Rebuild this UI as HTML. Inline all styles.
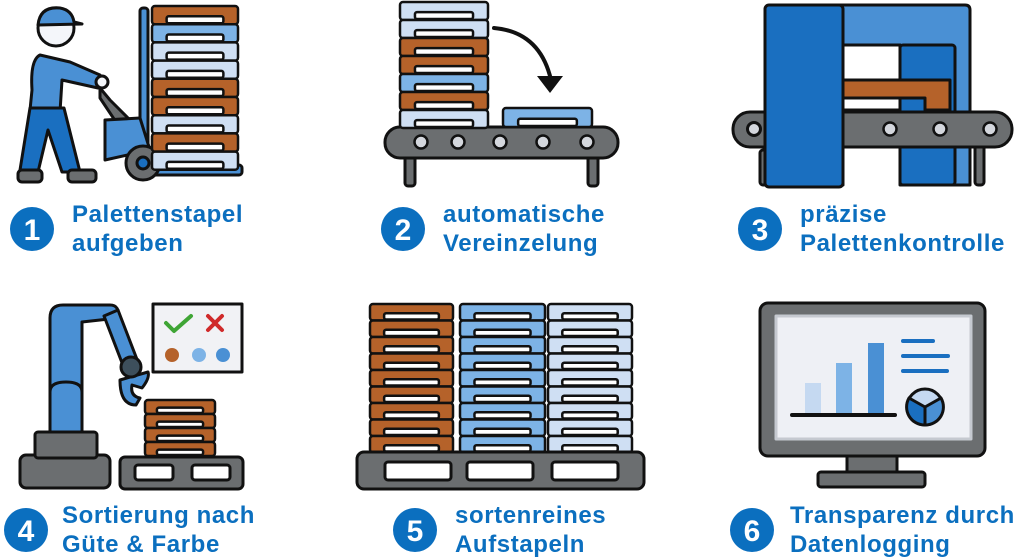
<!DOCTYPE html>
<html><head><meta charset="utf-8">
<style>
html,body{margin:0;padding:0;background:#fff;width:1024px;height:560px;overflow:hidden}
.lab{position:absolute;font-family:"Liberation Sans",sans-serif;font-weight:bold;font-size:24px;letter-spacing:0.6px;line-height:29px;color:#0b6fbf;white-space:nowrap}
</style></head><body>
<svg id="s" width="1024" height="560" style="position:absolute;left:0;top:0" stroke-linejoin="round" stroke-linecap="round">
<!-- Panel 1 worker -->
<g stroke="#111" stroke-width="3">
<rect x="140" y="8" width="8" height="165" rx="3" fill="#4a90d4"/>
<rect x="140" y="165" width="102" height="10" rx="3" fill="#4a90d4"/>
<path d="M40 55 Q30 60 32 90 L30 110 L60 112 L62 80 L98 88 L100 75 L70 62 Z" fill="#4a90d4"/>
<path d="M30 108 L20 170 L38 172 L48 130 L62 172 L80 172 L64 108 Z" fill="#1a6fc0"/>
<rect x="18" y="170" width="24" height="12" rx="4" fill="#6b6e70"/>
<rect x="68" y="170" width="28" height="12" rx="4" fill="#6b6e70"/>
<circle cx="56" cy="28" r="18" fill="#f4f6fa"/>
<path d="M38 25 Q40 6 60 8 Q72 10 74 22 L82 24 Z" fill="#4a90d4"/>
<path d="M100 88 L110 100 L130 120 L120 128 L100 98 Z" fill="#6b6e70"/>
<circle cx="102" cy="82" r="6" fill="#f4f6fa"/>
<path d="M105 120 L140 118 L150 150 L105 160 Z" fill="#4a90d4"/>
<circle cx="143" cy="163" r="17" fill="#6b6e70"/>
<circle cx="143" cy="163" r="6" fill="#1a6fc0"/>
</g>
<g id="p1"></g>
<!-- Panel 2 -->
<g stroke="#111" stroke-width="3">
<rect x="405" y="152" width="10" height="34" rx="3" fill="#6b6e70"/>
<rect x="588" y="152" width="10" height="34" rx="3" fill="#6b6e70"/>
<rect x="385" y="127" width="233" height="31" rx="15" fill="#6b6e70"/>
</g>
<g id="p2"></g>
<path d="M494 28 Q540 32 551 80" fill="none" stroke="#111" stroke-width="4"/>
<path d="M537 76 L550 93 L563 76 Z" fill="#111"/>
<!-- Panel 3 -->
<g stroke="#111" stroke-width="3">
<rect x="760" y="150" width="9" height="35" rx="3" fill="#6b6e70"/>
<rect x="975" y="145" width="9" height="40" rx="3" fill="#6b6e70"/>
<path d="M832 5 L965 5 Q970 5 970 10 L970 185 L900 185 L900 45 L843 45 L843 185 L832 185 Z" fill="#4a90d4"/>
<rect x="843" y="45" width="57" height="65" fill="#fff"/>
<rect x="900" y="45" width="55" height="140" rx="3" fill="#1a6fc0"/>
<path d="M843 80 L950 80 L950 110 L925 110 L925 98 L843 98 Z" fill="#b5622a"/>
<rect x="733" y="112" width="279" height="35" rx="17" fill="#6b6e70"/>
<circle cx="754" cy="129" r="6.5" fill="#d4d7dd"/>
<rect x="765" y="5" width="78" height="182" rx="4" fill="#1a6fc0"/>
</g>
<g id="p3"></g>
<!-- Panel 4 -->
<g stroke="#111" stroke-width="3">
<rect x="153" y="304" width="89" height="68" fill="#f1f2f5"/>
<path d="M166 323 L174 331 L191 316" fill="none" stroke="#3fa535" stroke-width="4"/>
<path d="M208 316 L222 330 M222 316 L208 330" stroke="#d02a2a" stroke-width="4"/>
<circle cx="172" cy="355" r="7" fill="#b5622a" stroke="none"/>
<circle cx="199" cy="355" r="7" fill="#7db3e6" stroke="none"/>
<circle cx="223" cy="355" r="7" fill="#4a90d4" stroke="none"/>
<rect x="20" y="455" width="90" height="33" rx="6" fill="#6b6e70"/>
<rect x="35" y="432" width="62" height="26" rx="3" fill="#6b6e70"/>
<path d="M50 432 L50 318 Q50 305 63 305 L110 305 Q120 305 118 318 L82 322 L82 432 Z" fill="#4a90d4"/>
<path d="M50 392 Q50 382 66 382 Q82 382 82 392" fill="none"/>
<path d="M104 316 L118 310 L138 362 L124 368 Z" fill="#4a90d4"/>
<path d="M120 380 Q120 405 136 405 L140 398 Q130 396 132 385 L142 388 Q150 378 148 372 Z" fill="#4a90d4"/>
<circle cx="131" cy="367" r="10" fill="#3d4f5c"/>
<rect x="120" y="457" width="123" height="32" rx="5" fill="#6b6e70"/>
<rect x="135" y="465" width="38" height="15" rx="3" fill="#fff"/>
<rect x="192" y="465" width="38" height="15" rx="3" fill="#fff"/>
</g>
<g id="p4"></g>
<!-- Panel 5 -->
<g id="p5"></g>
<g stroke="#111" stroke-width="3">
<rect x="357" y="452" width="287" height="37" rx="7" fill="#6b6e70"/>
<rect x="385" y="462" width="66" height="18" rx="3" fill="#fff"/>
<rect x="467" y="462" width="66" height="18" rx="3" fill="#fff"/>
<rect x="552" y="462" width="66" height="18" rx="3" fill="#fff"/>
</g>
<!-- Panel 6 -->
<g stroke="#111" stroke-width="3">
<rect x="847" y="452" width="50" height="24" fill="#6b6e70"/>
<rect x="818" y="472" width="107" height="15" rx="3" fill="#6b6e70"/>
<rect x="760" y="303" width="225" height="153" rx="8" fill="#6b6e70"/>
<rect x="776" y="316" width="195" height="123" fill="#eef0f5" stroke="#c5c9d0"/>
</g>
<rect x="805" y="383" width="16" height="31" fill="#c5d9f1"/>
<rect x="836" y="363" width="16" height="51" fill="#7db3e6"/>
<rect x="868" y="343" width="16" height="71" fill="#4a90d4"/>
<line x1="792" y1="415" x2="895" y2="415" stroke="#111" stroke-width="4"/>
<g stroke="#1a6fc0" stroke-width="4"><line x1="903" y1="341" x2="933" y2="341"/><line x1="903" y1="356" x2="948" y2="356"/><line x1="903" y1="371" x2="947" y2="371"/></g>
<g stroke="#111" stroke-width="3">
<circle cx="925" cy="407" r="18" fill="#c5d9f1"/>
<path d="M925 407 L909 398 A18 18 0 0 0 925 425 Z" fill="#1a6fc0"/>
<path d="M925 407 L925 425 A18 18 0 0 0 941 398 Z" fill="#4a90d4"/>
</g>
<!-- number circles -->
<g fill="#0b6fbf">
<circle cx="32" cy="229" r="22"/><circle cx="403" cy="229" r="22"/><circle cx="760" cy="229" r="22"/>
<circle cx="26" cy="530" r="22"/><circle cx="415" cy="530" r="22"/><circle cx="752" cy="530" r="22"/>
</g>
<g fill="#fff" font-family="Liberation Sans,sans-serif" font-weight="bold" font-size="30" text-anchor="middle">
<text x="32" y="240">1</text><text x="403" y="240">2</text><text x="760" y="240">3</text>
<text x="26" y="541">4</text><text x="415" y="541">5</text><text x="752" y="541">6</text>
</g>
</svg>
<div class="lab" style="left:72px;top:200px">Palettenstapel<br>aufgeben</div>
<div class="lab" style="left:443px;top:200px">automatische<br>Vereinzelung</div>
<div class="lab" style="left:800px;top:200px">präzise<br>Palettenkontrolle</div>
<div class="lab" style="left:62px;top:501px">Sortierung nach<br>Güte &amp; Farbe</div>
<div class="lab" style="left:455px;top:501px">sortenreines<br>Aufstapeln</div>
<div class="lab" style="left:790px;top:501px">Transparenz durch<br>Datenlogging</div>
<script>
var NS="http://www.w3.org/2000/svg";
function el(g,t,a){var e=document.createElementNS(NS,t);for(var k in a)e.setAttribute(k,a[k]);g.appendChild(e);return e;}
var C={b:"#b5622a",m:"#7db3e6",l:"#cfdff3",d:"#4a90d4"};
function pal(g,x,y,w,h,c){
 el(g,"rect",{x:x,y:y,width:w,height:h,rx:3,fill:C[c],stroke:"#111","stroke-width":2.5});
 var sw=w*0.66,sx=x+(w-sw)/2,sh=Math.max(5,h*0.38);
 el(g,"rect",{x:sx,y:y+h-sh-1,width:sw,height:sh,rx:2,fill:"#fff",stroke:"#111","stroke-width":2.5});
}
function stack(id,x,y,w,h,cols){var g=document.getElementById(id);for(var i=0;i<cols.length;i++)pal(g,x,y+i*h,w,h,cols[i]);}
stack("p1",152,6,86,18.2,["b","m","l","l","b","b","l","b","l"]);
stack("p2",400,2,88,18,["l","l","b","b","m","b","l"]);
pal(document.getElementById("p2"),503,108,89,19,"m");
stack("p4",145,400,70,14,["b","b","b","b"]);
stack("p5",370,304,83,16.5,["b","b","b","b","b","b","b","b","b"]);
stack("p5",460,304,85,16.5,["m","m","m","m","m","m","m","m","m"]);
stack("p5",548,304,84,16.5,["l","l","l","l","l","l","l","l","l"]);
function rollers(id,xs,y){var g=document.getElementById(id);xs.forEach(function(x){el(g,"circle",{cx:x,cy:y,r:6.5,fill:"#d4d7dd",stroke:"#111","stroke-width":2.5});});}
rollers("p2",[421,458,500,543,587],142);
rollers("p3",[890,940,990],129);
</script>
</body></html>
